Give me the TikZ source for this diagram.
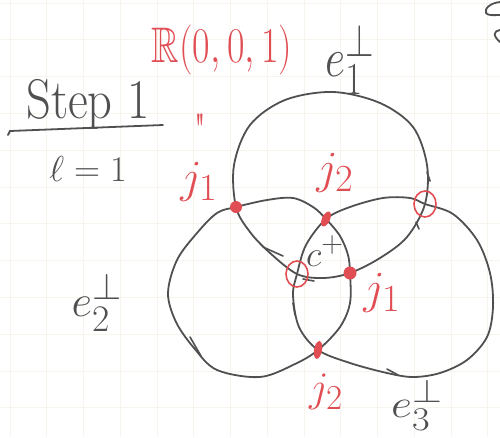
\documentclass[tikz,border=0pt]{standalone}
\usepackage{amssymb}
\definecolor{pencil}{RGB}{80,80,80}
\definecolor{redink}{RGB}{224,78,84}
\definecolor{gridc}{RGB}{247,244,237}
\begin{document}
\begin{tikzpicture}[x=1pt,y=-1pt,
  pen/.style={draw=pencil, line width=1.8pt, line cap=round, line join=round},
  tick/.style={draw=pencil, line width=1.6pt, line cap=round},
  dotmark/.style={fill=redink, draw=none},
  ring/.style={draw=redink, line width=1.6pt},
  blk/.style={text=pencil, inner sep=0pt, anchor=base, font=\Huge},
  rd/.style={text=redink, inner sep=0pt, anchor=base, font=\Huge}]
\useasboundingbox (0,0) rectangle (500,437);
% faint squared paper
\foreach \i in {0,...,13} \draw[gridc, line width=0.8pt] ({10+36.75*\i},0) -- ({10+36.75*\i},437);
\foreach \i in {0,...,11} \draw[gridc, line width=0.8pt] (0,{3+36.8*\i}) -- (500,{3+36.8*\i});

% intersection points
\coordinate (jA) at (236,207);
\coordinate (jB) at (326,219);
\coordinate (jC) at (350,273);
\coordinate (jD) at (318,350);
\coordinate (oA) at (425,204);
\coordinate (oB) at (297,274);

% e1 (top circle)
\draw[pen] plot[smooth cycle, tension=0.55] coordinates {(236,207) (234,165) (250,125) (285,100) (333,92) (380,103) (413,127) (427,165) (425,204) (407,237) (380,258) (350,273) (323,278) (297,274) (270,253) (250,232)};
% e2 (left circle)
\draw[pen] plot[smooth cycle, tension=0.55] coordinates {(236,207) (267,200) (293,198) (313,207) (326,219) (340,236) (348,255) (350,273) (350,303) (340,327) (318,350) (295,364) (260,377) (217,370) (194,348) (176,322) (168,293) (177,260) (197,233) (217,213)};
% e3 (right circle)
\draw[pen] plot[smooth cycle, tension=0.55] coordinates {(326,219) (350,207) (383,198) (410,198) (425,204) (453,214) (477,240) (490,273) (493,307) (487,337) (467,360) (440,373) (413,377) (387,373) (350,363) (318,350) (299,327) (293,295) (297,274) (306,245)};

% small pencil ticks
\draw[tick] (190,337) -- (201,356);
\draw[tick] (263,247) -- (283,256);
\draw[tick] (293,303) -- (295,315);
\draw[tick] (387,369) -- (398,375);
\draw[tick] (427,172) -- (430,181);
\draw[tick] (416,222) -- (419,229);
\draw[tick] (303,279) -- (314,281);

% red marks
\fill[dotmark] (jA) circle (6);
\fill[dotmark, rotate around={65:(jB)}] (jB) ellipse (8 and 4);
\fill[dotmark] (jC) circle (6.5);
\fill[dotmark, rotate around={80:(jD)}] (jD) ellipse (9 and 4);
\draw[ring] (oA) ellipse (11 and 13);
\draw[ring] (oB) ellipse (11 and 13);

% labels
\node[rd, xscale=1.53, yscale=2.01] (R) at (222,62) {$\mathbb{R}(0,0,1)$};
\node[blk, xscale=1.77, yscale=2.21] (e1) at (350,76) {$e_1^{\perp}$};
\node[blk, scale=1.81] (e2) at (97,316) {$e_2^{\perp}$};
\node[blk, xscale=1.85, yscale=1.6] (e3) at (417,417) {$e_3^{\perp}$};
\node[blk, xscale=1.95, yscale=2.25] (step) at (88,118) {Step 1};
\draw[pencil, line width=1.8pt, line cap=round] (8,135) -- (10,131) -- (163,125);
\node[blk, scale=1.45] (ell) at (88,181) {$\ell = 1$};
\node[rd, scale=1.7, anchor=north] (ditto) at (200,114) {\textquotedbl};
\node[rd, scale=1.85] (lj1) at (199,192) {$j_1$};
\node[rd, scale=1.85] (lj2) at (335,183) {$j_2$};
\node[rd, scale=1.85] (lj3) at (382,303) {$j_1$};
\node[rd, scale=1.69] (lj4) at (326,401) {$j_2$};
\node[blk, scale=1.45] (cp) at (325,266) {$c^{+}$};

% cropped letter at the top right edge
\draw[pencil, line width=1.8pt, line cap=round] (500,2) .. controls (490,3) and (484,9) .. (486,13) .. controls (488,16) and (495,15) .. (500,15);
\draw[pencil, line width=1.8pt, line cap=round] (500,30) .. controls (494,31) and (492,35) .. (500,42);
\end{tikzpicture}
\end{document}
